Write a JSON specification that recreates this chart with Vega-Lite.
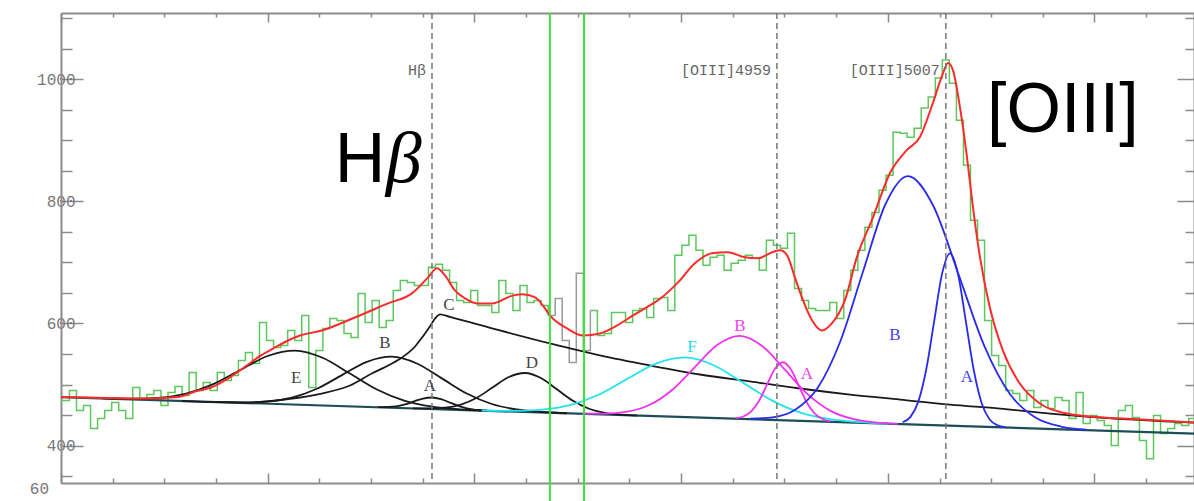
{
  "$schema": "https://vega.github.io/schema/vega-lite/v6.json",
  "width": 1133,
  "height": 470,
  "autosize": {"type": "none"},
  "padding": {"left": 61, "top": 13, "right": 0, "bottom": 18},
  "background": "white",
  "config": {
    "view": {"stroke": null},
    "axis": {"grid": false, "domainColor": "#8c8c8c", "domainWidth": 2, "tickColor": "#8c8c8c", "tickWidth": 1.5,
             "labelFont": "Liberation Mono", "labelFontSize": 16, "labelColor": "#777777", "title": null}
  },
  "resolve": {"axis": {"x": "independent", "y": "independent"}},
  "datasets": {
    "spectrum": [
      {"lam":4755.6,"flux":473.8,"part":"a"},{"lam":4758,"flux":490.2,"part":"a"},{"lam":4760,"flux":457.4,"part":"a"},{"lam":4762,"flux":465.6,"part":"a"},{"lam":4764,"flux":427.9,"part":"a"},{"lam":4766,"flux":444.3,"part":"a"},{"lam":4768,"flux":457.4,"part":"a"},{"lam":4770,"flux":470.5,"part":"a"},{"lam":4772,"flux":457.4,"part":"a"},{"lam":4774,"flux":444.3,"part":"a"},{"lam":4776,"flux":495.1,"part":"a"},{"lam":4778,"flux":477.1,"part":"a"},{"lam":4780,"flux":483.6,"part":"a"},{"lam":4782,"flux":490.2,"part":"a"},{"lam":4784,"flux":465.6,"part":"a"},{"lam":4786,"flux":486.9,"part":"a"},{"lam":4788,"flux":496.7,"part":"a"},{"lam":4790,"flux":482.0,"part":"a"},{"lam":4792,"flux":519.7,"part":"a"},{"lam":4794,"flux":490.2,"part":"a"},{"lam":4796,"flux":503.3,"part":"a"},{"lam":4798,"flux":490.2,"part":"a"},{"lam":4800,"flux":519.7,"part":"a"},{"lam":4802,"flux":506.6,"part":"a"},{"lam":4804,"flux":514.8,"part":"a"},{"lam":4806,"flux":539.4,"part":"a"},{"lam":4808,"flux":552.5,"part":"a"},{"lam":4810,"flux":534.5,"part":"a"},{"lam":4812,"flux":601.6,"part":"a"},{"lam":4814,"flux":572.1,"part":"a"},{"lam":4816,"flux":560.7,"part":"a"},{"lam":4818,"flux":564.0,"part":"a"},{"lam":4820,"flux":588.5,"part":"a"},{"lam":4822,"flux":572.1,"part":"a"},{"lam":4824,"flux":613.1,"part":"a"},{"lam":4826,"flux":495.1,"part":"a"},{"lam":4828,"flux":555.7,"part":"a"},{"lam":4830,"flux":591.8,"part":"a"},{"lam":4832,"flux":608.2,"part":"a"},{"lam":4834,"flux":604.9,"part":"a"},{"lam":4836,"flux":583.6,"part":"a"},{"lam":4838,"flux":577.1,"part":"a"},{"lam":4840,"flux":649.2,"part":"a"},{"lam":4842,"flux":601.6,"part":"a"},{"lam":4844,"flux":637.7,"part":"a"},{"lam":4846,"flux":593.4,"part":"a"},{"lam":4848,"flux":604.9,"part":"a"},{"lam":4850,"flux":654.1,"part":"a"},{"lam":4852,"flux":670.5,"part":"a"},{"lam":4854,"flux":667.2,"part":"a"},{"lam":4856,"flux":662.3,"part":"a"},{"lam":4858,"flux":662.3,"part":"a"},{"lam":4860,"flux":691.8,"part":"a"},{"lam":4862,"flux":696.7,"part":"a"},{"lam":4864,"flux":686.9,"part":"a"},{"lam":4866,"flux":667.2,"part":"a"},{"lam":4868,"flux":637.7,"part":"a"},{"lam":4870,"flux":634.4,"part":"a"},{"lam":4872,"flux":654.1,"part":"a"},{"lam":4874,"flux":629.5,"part":"a"},{"lam":4876,"flux":629.5,"part":"a"},{"lam":4878,"flux":618.0,"part":"a"},{"lam":4880,"flux":670.5,"part":"a"},{"lam":4882,"flux":649.2,"part":"a"},{"lam":4884,"flux":621.3,"part":"a"},{"lam":4886,"flux":662.3,"part":"a"},{"lam":4888,"flux":634.4,"part":"a"},{"lam":4890,"flux":637.7,"part":"a"},{"lam":4892,"flux":629.5,"part":"a"},{"lam":4894,"flux":613.1,"part":"a"},
      {"lam":4894,"flux":613.1,"part":"m"},{"lam":4896,"flux":641.0,"part":"m"},{"lam":4898,"flux":572.1,"part":"m"},{"lam":4900,"flux":536.1,"part":"m"},{"lam":4902,"flux":682.0,"part":"m"},{"lam":4904,"flux":555.7,"part":"m"},{"lam":4906,"flux":621.3,"part":"m"},
      {"lam":4906,"flux":621.3,"part":"b"},{"lam":4908,"flux":580.4,"part":"b"},{"lam":4910,"flux":583.6,"part":"b"},{"lam":4912,"flux":618.0,"part":"b"},{"lam":4914,"flux":618.0,"part":"b"},{"lam":4916,"flux":601.6,"part":"b"},{"lam":4918,"flux":621.3,"part":"b"},{"lam":4920,"flux":624.6,"part":"b"},{"lam":4922,"flux":609.8,"part":"b"},{"lam":4924,"flux":641.0,"part":"b"},{"lam":4926,"flux":642.6,"part":"b"},{"lam":4928,"flux":621.3,"part":"b"},{"lam":4930,"flux":711.5,"part":"b"},{"lam":4932,"flux":727.9,"part":"b"},{"lam":4934,"flux":744.3,"part":"b"},{"lam":4936,"flux":719.7,"part":"b"},{"lam":4938,"flux":695.1,"part":"b"},{"lam":4940,"flux":708.2,"part":"b"},{"lam":4942,"flux":711.5,"part":"b"},{"lam":4944,"flux":686.9,"part":"b"},{"lam":4946,"flux":698.4,"part":"b"},{"lam":4948,"flux":703.3,"part":"b"},{"lam":4950,"flux":711.5,"part":"b"},{"lam":4952,"flux":706.6,"part":"b"},{"lam":4954,"flux":686.9,"part":"b"},{"lam":4956,"flux":736.1,"part":"b"},{"lam":4958,"flux":727.9,"part":"b"},{"lam":4960,"flux":722.9,"part":"b"},{"lam":4962,"flux":747.5,"part":"b"},{"lam":4964,"flux":657.4,"part":"b"},{"lam":4966,"flux":637.7,"part":"b"},{"lam":4968,"flux":624.6,"part":"b"},{"lam":4970,"flux":621.3,"part":"b"},{"lam":4972,"flux":621.3,"part":"b"},{"lam":4974,"flux":634.4,"part":"b"},{"lam":4976,"flux":608.2,"part":"b"},{"lam":4978,"flux":654.1,"part":"b"},{"lam":4980,"flux":686.9,"part":"b"},{"lam":4982,"flux":719.7,"part":"b"},{"lam":4984,"flux":757.4,"part":"b"},{"lam":4986,"flux":781.5,"part":"b"},{"lam":4988,"flux":818.0,"part":"b"},{"lam":4990,"flux":842.6,"part":"b"},{"lam":4992,"flux":913.1,"part":"b"},{"lam":4994,"flux":911.5,"part":"b"},{"lam":4996,"flux":904.9,"part":"b"},{"lam":4998,"flux":919.7,"part":"b"},{"lam":5000,"flux":952.5,"part":"b"},{"lam":5002,"flux":970.5,"part":"b"},{"lam":5004,"flux":1001.6,"part":"b"},{"lam":5006,"flux":1031.2,"part":"b"},{"lam":5008,"flux":993.4,"part":"b"},{"lam":5010,"flux":932.8,"part":"b"},{"lam":5012,"flux":859.0,"part":"b"},{"lam":5014,"flux":768.9,"part":"b"},{"lam":5016,"flux":736.1,"part":"b"},{"lam":5018,"flux":604.9,"part":"b"},{"lam":5020,"flux":547.6,"part":"b"},{"lam":5022,"flux":531.2,"part":"b"},{"lam":5024,"flux":490.2,"part":"b"},{"lam":5026,"flux":485.3,"part":"b"},{"lam":5028,"flux":473.8,"part":"b"},{"lam":5030,"flux":490.2,"part":"b"},{"lam":5032,"flux":462.3,"part":"b"},{"lam":5034,"flux":473.8,"part":"b"},{"lam":5036,"flux":460.7,"part":"b"},{"lam":5038,"flux":478.7,"part":"b"},{"lam":5040,"flux":473.8,"part":"b"},{"lam":5042,"flux":444.3,"part":"b"},{"lam":5044,"flux":486.9,"part":"b"},{"lam":5046,"flux":436.1,"part":"b"},{"lam":5048,"flux":449.2,"part":"b"},{"lam":5050,"flux":441.0,"part":"b"},{"lam":5052,"flux":432.8,"part":"b"},{"lam":5054,"flux":400.0,"part":"b"},{"lam":5056,"flux":457.4,"part":"b"},{"lam":5058,"flux":465.6,"part":"b"},{"lam":5060,"flux":445.9,"part":"b"},{"lam":5062,"flux":408.2,"part":"b"},{"lam":5064,"flux":378.7,"part":"b"},{"lam":5066,"flux":449.2,"part":"b"},{"lam":5068,"flux":419.7,"part":"b"},{"lam":5070,"flux":427.9,"part":"b"},{"lam":5072,"flux":436.1,"part":"b"},{"lam":5074,"flux":432.8,"part":"b"},{"lam":5076,"flux":444.3,"part":"b"},{"lam":5077.5,"flux":444.3,"part":"b"}
    ],
    "model": [
      {"lam":4755.6,"flux":479.5},{"lam":4769.5,"flux":477.9},{"lam":4780.9,"flux":477.1},{"lam":4788.8,"flux":479.5},{"lam":4793.7,"flux":488.5},{"lam":4798.2,"flux":495.1},{"lam":4803.0,"flux":509.8},{"lam":4807.6,"flux":527.9},{"lam":4812.4,"flux":547.6},{"lam":4816.4,"flux":560.7},{"lam":4820.1,"flux":572.1},{"lam":4823.5,"flux":580.3},{"lam":4829.7,"flux":588.5},{"lam":4839.1,"flux":609.8},{"lam":4848.5,"flux":632.8},{"lam":4855.3,"flux":649.2},{"lam":4859.9,"flux":675.4},{"lam":4862.4,"flux":690.2},{"lam":4864.7,"flux":678.7},{"lam":4867.5,"flux":654.1},{"lam":4870.4,"flux":641.0},{"lam":4873.8,"flux":632.8},{"lam":4878.3,"flux":632.8},{"lam":4883.2,"flux":644.3},{"lam":4886.6,"flux":647.6},{"lam":4890.3,"flux":642.6},{"lam":4892.5,"flux":629.5},{"lam":4894.5,"flux":613.1},{"lam":4899.4,"flux":591.8},{"lam":4903.9,"flux":580.3},{"lam":4908.7,"flux":583.6},{"lam":4913.6,"flux":596.7},{"lam":4918.1,"flux":613.1},{"lam":4922.9,"flux":629.5},{"lam":4926.3,"flux":642.6},{"lam":4930.9,"flux":667.2},{"lam":4935.7,"flux":698.4},{"lam":4940.5,"flux":714.8},{"lam":4945.1,"flux":716.4},{"lam":4949.9,"flux":708.2},{"lam":4953.6,"flux":706.6},{"lam":4957.6,"flux":716.4},{"lam":4959.9,"flux":719.7},{"lam":4961.9,"flux":711.5},{"lam":4964.1,"flux":675.4},{"lam":4966.1,"flux":642.6},{"lam":4969.0,"flux":604.9},{"lam":4971.8,"flux":588.5},{"lam":4974.6,"flux":600.0},{"lam":4978.3,"flux":637.7},{"lam":4981.7,"flux":708.2},{"lam":4986.3,"flux":773.8},{"lam":4991.1,"flux":845.9},{"lam":4995.9,"flux":883.6},{"lam":4999.6,"flux":904.9},{"lam":5003.3,"flux":960.7},{"lam":5006.2,"flux":1009.8},{"lam":5007.6,"flux":1026.2},{"lam":5009.0,"flux":1014.8},{"lam":5011.0,"flux":954.1},{"lam":5013.0,"flux":872.1},{"lam":5014.7,"flux":790.2},{"lam":5016.7,"flux":708.2},{"lam":5019.5,"flux":626.2},{"lam":5023.2,"flux":555.7},{"lam":5028.0,"flux":501.6},{"lam":5033.7,"flux":468.9},{"lam":5041.4,"flux":452.5},{"lam":5050.8,"flux":446.5},{"lam":5060.1,"flux":443.5},{"lam":5077.5,"flux":438.0}
    ],
    "continuum": [{"lam":4755.6,"flux":479.5},{"lam":5077.5,"flux":419.7}],
    "black": [
      {"comp":"E","lam":4767.5,"flux":477.5},{"comp":"E","lam":4775.3,"flux":476.8},{"comp":"E","lam":4783.1,"flux":478.3},{"comp":"E","lam":4790.9,"flux":484.9},{"comp":"E","lam":4798.7,"flux":500.2},{"comp":"E","lam":4806.5,"flux":523.7},{"comp":"E","lam":4814.3,"flux":546.7},{"comp":"E","lam":4822.1,"flux":555.6},{"comp":"E","lam":4829.9,"flux":543.8},{"comp":"E","lam":4837.7,"flux":517.9},{"comp":"E","lam":4845.5,"flux":491.5},{"comp":"E","lam":4853.3,"flux":473.3},{"comp":"E","lam":4861.1,"flux":463.8},{"comp":"E","lam":4868.9,"flux":459.4},{"comp":"E","lam":4876.7,"flux":457.2},
      {"comp":"B","lam":4799.9,"flux":471.5},{"comp":"B","lam":4807.0,"flux":470.9},{"comp":"B","lam":4814.1,"flux":472.3},{"comp":"B","lam":4821.2,"flux":478.6},{"comp":"B","lam":4828.3,"flux":493.1},{"comp":"B","lam":4835.4,"flux":515.4},{"comp":"B","lam":4842.5,"flux":537.2},{"comp":"B","lam":4849.6,"flux":545.6},{"comp":"B","lam":4856.7,"flux":534.5},{"comp":"B","lam":4863.8,"flux":510.1},{"comp":"B","lam":4870.9,"flux":485.2},{"comp":"B","lam":4878.0,"flux":468.1},{"comp":"B","lam":4885.1,"flux":459.1},{"comp":"B","lam":4892.2,"flux":455.0},{"comp":"B","lam":4899.3,"flux":453.0},
      {"comp":"A","lam":4845.7,"flux":463.0},{"comp":"A","lam":4850.8,"flux":464.4},{"comp":"A","lam":4853.35,"flux":467.4},{"comp":"A","lam":4855.9,"flux":472.4},{"comp":"A","lam":4858.45,"flux":477.1},{"comp":"A","lam":4861.0,"flux":478.8},{"comp":"A","lam":4863.55,"flux":476.1},{"comp":"A","lam":4866.1,"flux":470.5},{"comp":"A","lam":4868.65,"flux":464.6},{"comp":"A","lam":4871.2,"flux":460.6},{"comp":"A","lam":4876.3,"flux":457.3},
      {"comp":"C","lam":4790.0,"flux":472.9},{"comp":"C","lam":4809.3,"flux":470.5},{"comp":"C","lam":4820.1,"flux":476.2},{"comp":"C","lam":4829.7,"flux":485.3},{"comp":"C","lam":4837.7,"flux":498.4},{"comp":"C","lam":4843.9,"flux":518.0},{"comp":"C","lam":4849.1,"flux":532.8},{"comp":"C","lam":4852.5,"flux":544.3},{"comp":"C","lam":4856.2,"flux":562.3},{"comp":"C","lam":4858.2,"flux":577.1},{"comp":"C","lam":4860.4,"flux":595.1},{"comp":"C","lam":4861.9,"flux":608.2},{"comp":"C","lam":4863.3,"flux":614.8},{"comp":"C","lam":4866.1,"flux":610.7},{"comp":"C","lam":4880.3,"flux":588.5},{"comp":"C","lam":4894.5,"flux":567.2},{"comp":"C","lam":4908.7,"flux":547.6},{"comp":"C","lam":4922.9,"flux":531.2},{"comp":"C","lam":4937.1,"flux":516.4},{"comp":"C","lam":4951.3,"flux":505.0},{"comp":"C","lam":4965.5,"flux":493.5},{"comp":"C","lam":4979.8,"flux":483.6},{"comp":"C","lam":4994.0,"flux":475.4},{"comp":"C","lam":5008.2,"flux":467.2},{"comp":"C","lam":5022.4,"flux":460.7},{"comp":"C","lam":5036.6,"flux":452.5},{"comp":"C","lam":5050.8,"flux":445.9},{"comp":"C","lam":5077.5,"flux":437.7},
      {"comp":"D","lam":4855.55,"flux":461.0},{"comp":"D","lam":4860.1,"flux":460.8},{"comp":"D","lam":4864.65,"flux":462.0},{"comp":"D","lam":4869.2,"flux":467.1},{"comp":"D","lam":4873.75,"flux":478.3},{"comp":"D","lam":4878.3,"flux":495.5},{"comp":"D","lam":4882.85,"flux":512.3},{"comp":"D","lam":4887.4,"flux":518.9},{"comp":"D","lam":4891.95,"flux":510.6},{"comp":"D","lam":4896.5,"flux":492.1},{"comp":"D","lam":4901.05,"flux":473.3},{"comp":"D","lam":4905.6,"flux":460.3},{"comp":"D","lam":4910.15,"flux":453.6},{"comp":"D","lam":4914.7,"flux":450.6},{"comp":"D","lam":4919.25,"flux":449.2}
    ],
    "cyan": [
      {"comp":"F","lam":4875.15,"flux":457.5},{"comp":"F","lam":4883.4,"flux":456.9},{"comp":"F","lam":4891.65,"flux":458.5},{"comp":"F","lam":4899.9,"flux":465.9},{"comp":"F","lam":4908.15,"flux":482.9},{"comp":"F","lam":4916.4,"flux":508.9},{"comp":"F","lam":4924.65,"flux":534.3},{"comp":"F","lam":4932.9,"flux":544.3},{"comp":"F","lam":4941.15,"flux":531.2},{"comp":"F","lam":4949.4,"flux":502.8},{"comp":"F","lam":4957.65,"flux":473.7},{"comp":"F","lam":4965.9,"flux":453.6},{"comp":"F","lam":4974.15,"flux":443.2},{"comp":"F","lam":4982.4,"flux":438.5},{"comp":"F","lam":4990.65,"flux":436.0}
    ],
    "magenta": [
      {"comp":"B","lam":4903.7,"flux":452.3},{"comp":"B","lam":4910.1,"flux":452.3},{"comp":"B","lam":4916.5,"flux":455.6},{"comp":"B","lam":4922.9,"flux":466.8},{"comp":"B","lam":4929.3,"flux":491.4},{"comp":"B","lam":4935.7,"flux":528.6},{"comp":"B","lam":4942.1,"flux":565.0},{"comp":"B","lam":4948.5,"flux":579.8},{"comp":"B","lam":4954.9,"flux":562.6},{"comp":"B","lam":4961.3,"flux":523.9},{"comp":"B","lam":4967.7,"flux":484.3},{"comp":"B","lam":4974.1,"flux":457.3},{"comp":"B","lam":4980.5,"flux":443.7},{"comp":"B","lam":4986.9,"flux":438.0},{"comp":"B","lam":4993.3,"flux":435.6},
      {"comp":"A","lam":4947.2,"flux":445.0},{"comp":"A","lam":4949.45,"flux":447.7},{"comp":"A","lam":4951.7,"flux":456.0},{"comp":"A","lam":4953.95,"flux":473.5},{"comp":"A","lam":4956.2,"flux":499.9},{"comp":"A","lam":4958.45,"flux":525.7},{"comp":"A","lam":4960.7,"flux":536.5},{"comp":"A","lam":4962.95,"flux":524.9},{"comp":"A","lam":4965.2,"flux":498.3},{"comp":"A","lam":4967.45,"flux":471.0},{"comp":"A","lam":4969.7,"flux":452.6},{"comp":"A","lam":4971.95,"flux":443.5},{"comp":"A","lam":4974.2,"flux":439.9}
    ],
    "blue": [
      {"comp":"B","lam":4951.4,"flux":444.0},{"comp":"B","lam":4957.8,"flux":446.4},{"comp":"B","lam":4964.2,"flux":458.6},{"comp":"B","lam":4970.6,"flux":494.6},{"comp":"B","lam":4977.0,"flux":570.4},{"comp":"B","lam":4983.4,"flux":683.7},{"comp":"B","lam":4989.8,"flux":794.7},{"comp":"B","lam":4996.2,"flux":841.3},{"comp":"B","lam":5003.45,"flux":792.2},{"comp":"B","lam":5010.7,"flux":678.6},{"comp":"B","lam":5017.95,"flux":562.8},{"comp":"B","lam":5025.2,"flux":484.4},{"comp":"B","lam":5032.45,"flux":445.9},{"comp":"B","lam":5039.7,"flux":431.2},{"comp":"B","lam":5046.95,"flux":426.3},
      {"comp":"A","lam":4994.7,"flux":438.2},{"comp":"A","lam":4996.95,"flux":447.1},{"comp":"A","lam":4999.2,"flux":472.4},{"comp":"A","lam":5001.45,"flux":525.4},{"comp":"A","lam":5003.7,"flux":604.4},{"comp":"A","lam":5005.95,"flux":681.9},{"comp":"A","lam":5008.2,"flux":714.6},{"comp":"A","lam":5010.45,"flux":681.0},{"comp":"A","lam":5012.7,"flux":602.7},{"comp":"A","lam":5014.95,"flux":522.9},{"comp":"A","lam":5017.2,"flux":469.1},{"comp":"A","lam":5019.45,"flux":442.9},{"comp":"A","lam":5021.7,"flux":433.2},{"comp":"A","lam":5023.95,"flux":430.2}
    ],
    "lines": [{"lam":4861,"name":"Hβ"},{"lam":4959,"name":"[OIII]4959"},{"lam":5007,"name":"[OIII]5007"}],
    "window": [{"lam":4894.5},{"lam":4904.2}],
    "complabels": [
      {"family":"black","text":"E","lam":4822.4,"flux":511.5},
      {"family":"black","text":"B","lam":4847.6,"flux":567.2},
      {"family":"black","text":"A","lam":4860.4,"flux":498.4},
      {"family":"black","text":"C","lam":4865.8,"flux":629.5},
      {"family":"black","text":"D","lam":4889.4,"flux":534.5},
      {"family":"cyan","text":"F","lam":4934.9,"flux":560.7},
      {"family":"magenta","text":"B","lam":4948.5,"flux":595.1},
      {"family":"magenta","text":"A","lam":4967.5,"flux":518.0},
      {"family":"blue","text":"B","lam":4992.5,"flux":580.3},
      {"family":"blue","text":"A","lam":5013.0,"flux":513.1}
    ],
    "big": [{"text":"H","lam":4833.4,"flux":831.1},{"text":"[OIII]","lam":5018.7,"flux":913.1}],
    "greek": [{"text":"β","lam":4847.9,"flux":831.1}],
    "stray": [{"text":"60","lam":4752.2,"flux":329.5}]
  },
  "layer": [
    {
      "data": {"name": "spectrum"},
      "transform": [{"filter": "datum.part !== 'm'"}],
      "mark": {"type": "line", "interpolate": "step-after", "color": "#5cc85c", "strokeWidth": 1.5},
      "encoding": {
        "x": {"field": "lam", "type": "quantitative", "scale": {"domain": [4755.6, 5077.5], "nice": false, "zero": false},
              "axis": {"orient": "bottom", "labels": false,
                       "values": [4755.6,4770.3,4785.0,4799.6,4814.3,4829.0,4843.7,4858.4,4873.0,4887.7,4902.4,4917.1,4931.8,4946.4,4961.1,4975.8,4990.5,5005.2,5019.8,5034.5,5049.2,5063.9],
                       "tickSize": {"condition": {"test": "indexof([4755.6,4814.3,4873.0,4931.8,4990.5,5049.2], datum.value) >= 0", "value": -10}, "value": -5}}},
        "y": {"field": "flux", "type": "quantitative", "scale": {"domain": [338.8, 1108.2], "nice": false, "zero": false},
              "axis": {"orient": "left", "values": [350,400,450,500,550,600,650,700,750,800,850,900,950,1000,1050,1100],
                       "format": "d", "labelExpr": "datum.value % 200 === 0 ? datum.label : ''",
                       "labelOverlap": false, "labelFlush": false, "labelPadding": 8,
                       "tickSize": {"condition": {"test": "datum.value % 200 === 0", "value": -22}, "value": -11}}},
        "detail": {"field": "part"}
      }
    },
    {
      "data": {"name": "spectrum"},
      "transform": [{"filter": "datum.part === 'm'"}],
      "mark": {"type": "line", "interpolate": "step-after", "color": "#9a9a9a", "strokeWidth": 1.5},
      "encoding": {
        "x": {"field": "lam", "type": "quantitative", "axis": null},
        "y": {"field": "flux", "type": "quantitative", "axis": null}
      }
    },
    {
      "data": {"name": "continuum"},
      "mark": {"type": "line", "color": "#1d4e57", "strokeWidth": 2.2},
      "encoding": {
        "x": {"field": "lam", "type": "quantitative", "axis": null},
        "y": {"field": "flux", "type": "quantitative", "axis": null}
      }
    },
    {
      "data": {"name": "black"},
      "mark": {"type": "line", "interpolate": "monotone", "color": "#1a1a1a", "strokeWidth": 1.8},
      "encoding": {
        "x": {"field": "lam", "type": "quantitative", "axis": null},
        "y": {"field": "flux", "type": "quantitative", "axis": null},
        "detail": {"field": "comp"}
      }
    },
    {
      "data": {"name": "cyan"},
      "mark": {"type": "line", "interpolate": "monotone", "color": "#22e3ee", "strokeWidth": 1.8},
      "encoding": {
        "x": {"field": "lam", "type": "quantitative", "axis": null},
        "y": {"field": "flux", "type": "quantitative", "axis": null},
        "detail": {"field": "comp"}
      }
    },
    {
      "data": {"name": "magenta"},
      "mark": {"type": "line", "interpolate": "monotone", "color": "#ee33ee", "strokeWidth": 1.8},
      "encoding": {
        "x": {"field": "lam", "type": "quantitative", "axis": null},
        "y": {"field": "flux", "type": "quantitative", "axis": null},
        "detail": {"field": "comp"}
      }
    },
    {
      "data": {"name": "blue"},
      "mark": {"type": "line", "interpolate": "monotone", "color": "#2a2aee", "strokeWidth": 1.8},
      "encoding": {
        "x": {"field": "lam", "type": "quantitative", "axis": null},
        "y": {"field": "flux", "type": "quantitative", "axis": null},
        "detail": {"field": "comp"}
      }
    },
    {
      "data": {"name": "model"},
      "mark": {"type": "line", "interpolate": "monotone", "color": "#ff2a2a", "strokeWidth": 2},
      "encoding": {
        "x": {"field": "lam", "type": "quantitative",
              "axis": {"orient": "top", "labels": false,
                       "values": [4755.6,4770.3,4785.0,4799.6,4814.3,4829.0,4843.7,4858.4,4873.0,4887.7,4902.4,4917.1,4931.8,4946.4,4961.1,4975.8,4990.5,5005.2,5019.8,5034.5,5049.2,5063.9],
                       "tickSize": {"condition": {"test": "indexof([4755.6,4814.3,4873.0,4931.8,4990.5,5049.2], datum.value) >= 0", "value": -9}, "value": -4}}},
        "y": {"field": "flux", "type": "quantitative",
              "axis": {"orient": "right", "labels": false, "values": [350,400,450,500,550,600,650,700,750,800,850,900,950,1000,1050,1100],
                       "tickSize": {"condition": {"test": "datum.value % 200 === 0", "value": -17}, "value": -9}}}
      }
    },
    {
      "data": {"name": "lines"},
      "mark": {"type": "rule", "color": "#777777", "strokeWidth": 1.5, "strokeDash": [6, 4]},
      "encoding": {
        "x": {"field": "lam", "type": "quantitative", "axis": null}
      }
    },
    {
      "data": {"name": "window"},
      "mark": {"type": "rule", "color": "#3ce23c", "strokeWidth": 2},
      "encoding": {
        "x": {"field": "lam", "type": "quantitative", "axis": null},
        "y": {"datum": 1108.2, "type": "quantitative", "axis": null},
        "y2": {"datum": 305}
      }
    },
    {
      "data": {"name": "lines"},
      "mark": {"type": "text", "font": "Liberation Mono", "fontSize": 15, "color": "#666666", "align": "right", "baseline": "middle", "dx": -6},
      "encoding": {
        "x": {"field": "lam", "type": "quantitative", "axis": null},
        "y": {"datum": 1015, "type": "quantitative", "axis": null},
        "text": {"field": "name"}
      }
    },
    {
      "data": {"name": "complabels"},
      "transform": [{"filter": "datum.family === 'black'"}],
      "mark": {"type": "text", "font": "Liberation Serif", "fontSize": 17, "color": "#444444", "align": "center", "baseline": "middle"},
      "encoding": {
        "x": {"field": "lam", "type": "quantitative", "axis": null},
        "y": {"field": "flux", "type": "quantitative", "axis": null},
        "text": {"field": "text"}
      }
    },
    {
      "data": {"name": "complabels"},
      "transform": [{"filter": "datum.family === 'cyan'"}],
      "mark": {"type": "text", "font": "Liberation Serif", "fontSize": 17, "color": "#22dde8", "align": "center", "baseline": "middle"},
      "encoding": {
        "x": {"field": "lam", "type": "quantitative", "axis": null},
        "y": {"field": "flux", "type": "quantitative", "axis": null},
        "text": {"field": "text"}
      }
    },
    {
      "data": {"name": "complabels"},
      "transform": [{"filter": "datum.family === 'magenta'"}],
      "mark": {"type": "text", "font": "Liberation Serif", "fontSize": 17, "color": "#ee44ee", "align": "center", "baseline": "middle"},
      "encoding": {
        "x": {"field": "lam", "type": "quantitative", "axis": null},
        "y": {"field": "flux", "type": "quantitative", "axis": null},
        "text": {"field": "text"}
      }
    },
    {
      "data": {"name": "complabels"},
      "transform": [{"filter": "datum.family === 'blue'"}],
      "mark": {"type": "text", "font": "Liberation Serif", "fontSize": 17, "color": "#4444ee", "align": "center", "baseline": "middle"},
      "encoding": {
        "x": {"field": "lam", "type": "quantitative", "axis": null},
        "y": {"field": "flux", "type": "quantitative", "axis": null},
        "text": {"field": "text"}
      }
    },
    {
      "data": {"name": "big"},
      "mark": {"type": "text", "font": "Liberation Sans", "fontSize": 70, "color": "#000000", "align": "left", "baseline": "alphabetic"},
      "encoding": {
        "x": {"field": "lam", "type": "quantitative", "axis": null},
        "y": {"field": "flux", "type": "quantitative", "axis": null},
        "text": {"field": "text"}
      }
    },
    {
      "data": {"name": "greek"},
      "mark": {"type": "text", "font": "Liberation Serif", "fontStyle": "italic", "fontSize": 72, "color": "#000000", "align": "left", "baseline": "alphabetic"},
      "encoding": {
        "x": {"field": "lam", "type": "quantitative", "axis": null},
        "y": {"field": "flux", "type": "quantitative", "axis": null},
        "text": {"field": "text"}
      }
    },
    {
      "data": {"name": "stray"},
      "mark": {"type": "text", "font": "Liberation Mono", "fontSize": 16, "color": "#777777", "align": "right", "baseline": "middle"},
      "encoding": {
        "x": {"field": "lam", "type": "quantitative", "axis": null},
        "y": {"field": "flux", "type": "quantitative", "axis": null},
        "text": {"field": "text"}
      }
    }
  ]
}
